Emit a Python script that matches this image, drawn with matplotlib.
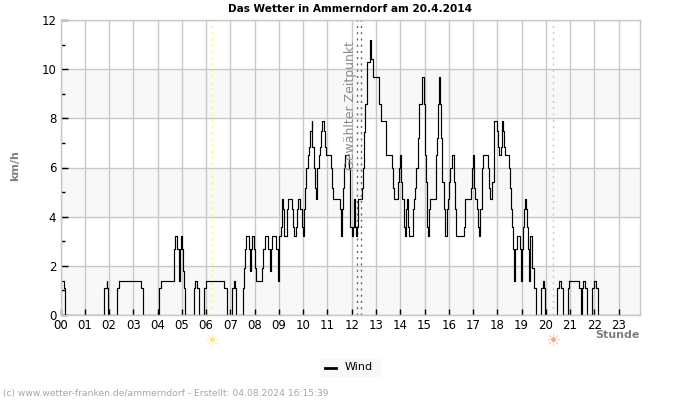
import matplotlib
matplotlib.use("Agg")
import numpy as np
import matplotlib.pyplot as plt
from matplotlib.lines import Line2D

# wind breakpoints: minute of the day, km/h (held until next breakpoint)
minutes = [0, 9, 12, 108, 114, 116, 118, 140, 145, 200, 205, 243, 248, 280, 281, 283, 289, 292, 294, 295,
           298, 300, 302, 305, 309, 330, 333, 338, 342, 355, 359, 405, 411, 424, 430, 432, 434,
           450, 454, 457, 459, 465, 468, 471, 474, 479, 482, 484, 499, 501, 505, 514, 519, 521, 524, 533,
           538, 541, 544, 547, 548, 551, 553, 561, 563, 573, 576, 578, 583, 585, 588, 593, 596, 599, 601,
           604, 607, 611, 615, 618, 621, 623, 626, 629, 631, 635, 638, 641, 643, 646, 651, 654, 656, 669,
           672, 674, 690, 693, 695, 698, 700, 703, 713, 716, 717, 720, 722, 725, 727, 730, 732, 735, 746,
           749, 751, 754, 758, 764, 768, 773, 788, 792, 804, 806, 819, 821, 824, 834, 836, 839, 841, 844,
           850, 852, 855, 857, 860, 862, 871, 873, 876, 880, 883, 887, 894, 899, 902, 904, 907, 909, 912,
           914, 929, 931, 934, 936, 939, 941, 944, 947, 951, 955, 957, 960, 962, 967, 973, 976, 978, 998,
           1001, 1015, 1017, 1019, 1022, 1025, 1030, 1033, 1035, 1037, 1041, 1043, 1045, 1057, 1060, 1062,
           1068, 1071, 1073, 1079, 1081, 1084, 1089, 1091, 1094, 1096, 1099, 1109, 1112, 1114, 1117, 1119,
           1122, 1124, 1128, 1135, 1138, 1140, 1143, 1145, 1148, 1150, 1153, 1155, 1158, 1160, 1162, 1165,
           1167, 1170, 1175, 1188, 1193, 1195, 1199, 1228, 1232, 1238, 1242, 1254, 1258, 1282, 1287, 1289,
           1292, 1297, 1302, 1314, 1319, 1324, 1330, 1380]
wind = [1.4, 1.1, 0, 1.1, 1.4, 1.1, 0, 1.1, 1.4, 1.1, 0, 1.1, 1.4, 1.8, 2.7, 3.2, 2.7, 1.8, 1.4, 2.7,
        3.2, 2.7, 1.8, 1.1, 0, 1.1, 1.4, 1.1, 0, 1.1, 1.4, 1.1, 0, 1.1, 1.4, 1.1, 0,
        1.1, 1.9, 2.7, 3.2, 2.7, 1.8, 2.7, 3.2, 2.7, 1.9, 1.4, 1.9, 2.7, 3.2, 2.7, 1.8, 2.7, 3.2, 2.7,
        1.4, 3.2, 3.6, 4.3, 4.7, 4.3, 3.2, 4.3, 4.7, 4.3, 3.6, 3.2, 3.6, 4.3, 4.7, 4.3, 3.6, 3.2, 4.3,
        5.15, 6.0, 6.5, 6.85, 7.5, 7.9, 6.85, 6.0, 5.15, 4.7, 6.0, 6.5, 6.85, 7.5, 7.9, 7.5, 6.85, 6.5, 6.0,
        5.15, 4.7, 4.3, 3.2, 4.3, 5.15, 6.0, 6.5, 6.0, 4.3, 3.6, 3.2, 3.6, 4.7, 3.6, 3.2, 3.6, 4.7, 5.15,
        6.0, 7.45, 8.6, 10.3, 11.2, 10.4, 9.7, 8.6, 7.9, 6.9, 6.5, 6.0, 5.15, 4.7, 5.4, 6.0, 6.5, 5.4, 4.7,
        3.6, 3.2, 4.3, 4.7, 3.6, 3.2, 4.3, 4.7, 5.15, 6.0, 7.2, 8.6, 9.7, 8.6, 6.5, 5.4, 3.6, 3.2, 4.3,
        4.7, 6.5, 7.2, 8.6, 9.7, 8.6, 7.2, 5.4, 4.3, 3.2, 4.3, 4.7, 5.4, 6.0, 6.5, 5.4, 4.3, 3.2, 3.6,
        4.7, 5.15, 6.0, 6.5, 5.15, 4.7, 4.3, 3.6, 3.2, 4.3, 5.15, 6.0, 6.5, 6.0, 5.15, 4.7,
        5.4, 7.1, 7.9, 7.5, 6.85, 6.5, 6.85, 7.9, 7.5, 6.85, 6.5, 6.0, 5.15, 4.3, 3.6, 2.7,
        1.4, 2.7, 3.2, 2.7, 1.4, 2.7, 3.6, 4.3, 4.7, 4.3, 3.6, 2.7, 1.4, 2.7, 3.2, 2.7,
        1.9, 1.1, 0, 1.1, 1.4, 1.1, 0, 1.1, 1.4, 1.1, 0, 1.1, 1.4, 1.1, 0, 1.1,
        1.4, 1.1, 0, 1.1, 1.4, 1.1, 0, 0]

hour_labels = ["%02d" % h for h in range(24)]
y_labels = [0, 2, 4, 6, 8, 10, 12]
sunrise = 6.24
sunset = 20.29
selected = [12.23, 12.39]

plt.rcParams['font.family'] = 'DejaVu Sans'
W, H = 700, 400
fig = plt.figure(figsize=(W / 100, H / 100), dpi=100)
left, right, top, bottom = 60.5, 640, 20, 315
ax = fig.add_axes([left / W, 1 - bottom / H, (right - left) / W, (bottom - top) / H])

grey = '#c8c8c8'
for lo in [0, 4, 8]:
    ax.axhspan(lo, lo + 2, color='#f8f8f8', lw=0, zorder=0)

ax.grid(True, color=grey, lw=1, zorder=1)
ax.set_axisbelow(True)

ax.axvline(sunrise, color='#fff176', lw=1, ls=(0, (1.5, 3)), zorder=2)
ax.axvline(sunset, color='#f5c27a', lw=1, ls=(0, (1.5, 3)), zorder=2)
for s in selected:
    ax.axvline(s, color='#666666', lw=1, ls=(0, (1.5, 3)), zorder=2)

ax.plot(np.array(minutes) / 60, wind, drawstyle='steps-post', color='black', lw=0.85, zorder=3)

ax.set_xlim(0, 23.88)
ax.set_ylim(0, 12)
ax.set_xticks(range(24))
ax.set_xticklabels(hour_labels, fontsize=8.5)
ax.set_yticks(y_labels)
ax.set_yticklabels([str(v) for v in y_labels], fontsize=8.5)
ax.set_yticks(range(1, 12, 2), minor=True)
ax.tick_params(axis='x', direction='in', length=4, width=1, color='black', pad=3)
ax.tick_params(axis='y', which='major', direction='in', length=5, width=1, color='black', pad=3)
ax.tick_params(axis='y', which='minor', direction='in', length=3, width=1, color='black')
for sp in ax.spines.values():
    sp.set_color(grey)
    sp.set_linewidth(1)
    sp.set_zorder(4)

ax.text(11.95, 11.15, "Gewählter Zeitpunkt", rotation=90, fontsize=9, color='#8c8c8c',
        ha='center', va='top', zorder=5)

fig.text(350 / W, 1 - 8.5 / H, "Das Wetter in Ammerndorf am 20.4.2014", fontsize=7.6, fontweight='bold',
         ha='center', va='center')
fig.text(15.5 / W, 1 - 166 / H, "km/h", fontsize=8, fontweight='bold', color='#808080', rotation=90,
         ha='center', va='center')
fig.text(640 / W, 1 - 334.5 / H, "Stunde", fontsize=8, fontweight='bold', color='#808080',
         ha='right', va='center')
fig.text(212 / W, 1 - 341 / H, "\u2600", fontsize=12, color='#ffe680', ha='center', va='center')
fig.text(553 / W, 1 - 341 / H, "\u2600", fontsize=12, color='#ffa98a', ha='center', va='center')
fig.text(3 / W, 1 - 393.5 / H, "(c) www.wetter-franken.de/ammerndorf - Erstellt: 04.08.2024 16:15:39",
         fontsize=6.6, color='#a6a6a6', ha='left', va='center')

# legend box
fig.patches.append(plt.Rectangle((320 / W, 1 - 377 / H), 61 / W, 18 / H, transform=fig.transFigure,
                                 facecolor='#f8f8f8', edgecolor='none'))
fig.add_artist(Line2D([325 / W, 336 / W], [1 - 367.5 / H] * 2, color='black', lw=2))
fig.text(345 / W, 1 - 366.5 / H, "Wind", fontsize=8, ha='left', va='center')

fig.savefig('out.png', dpi=100)
